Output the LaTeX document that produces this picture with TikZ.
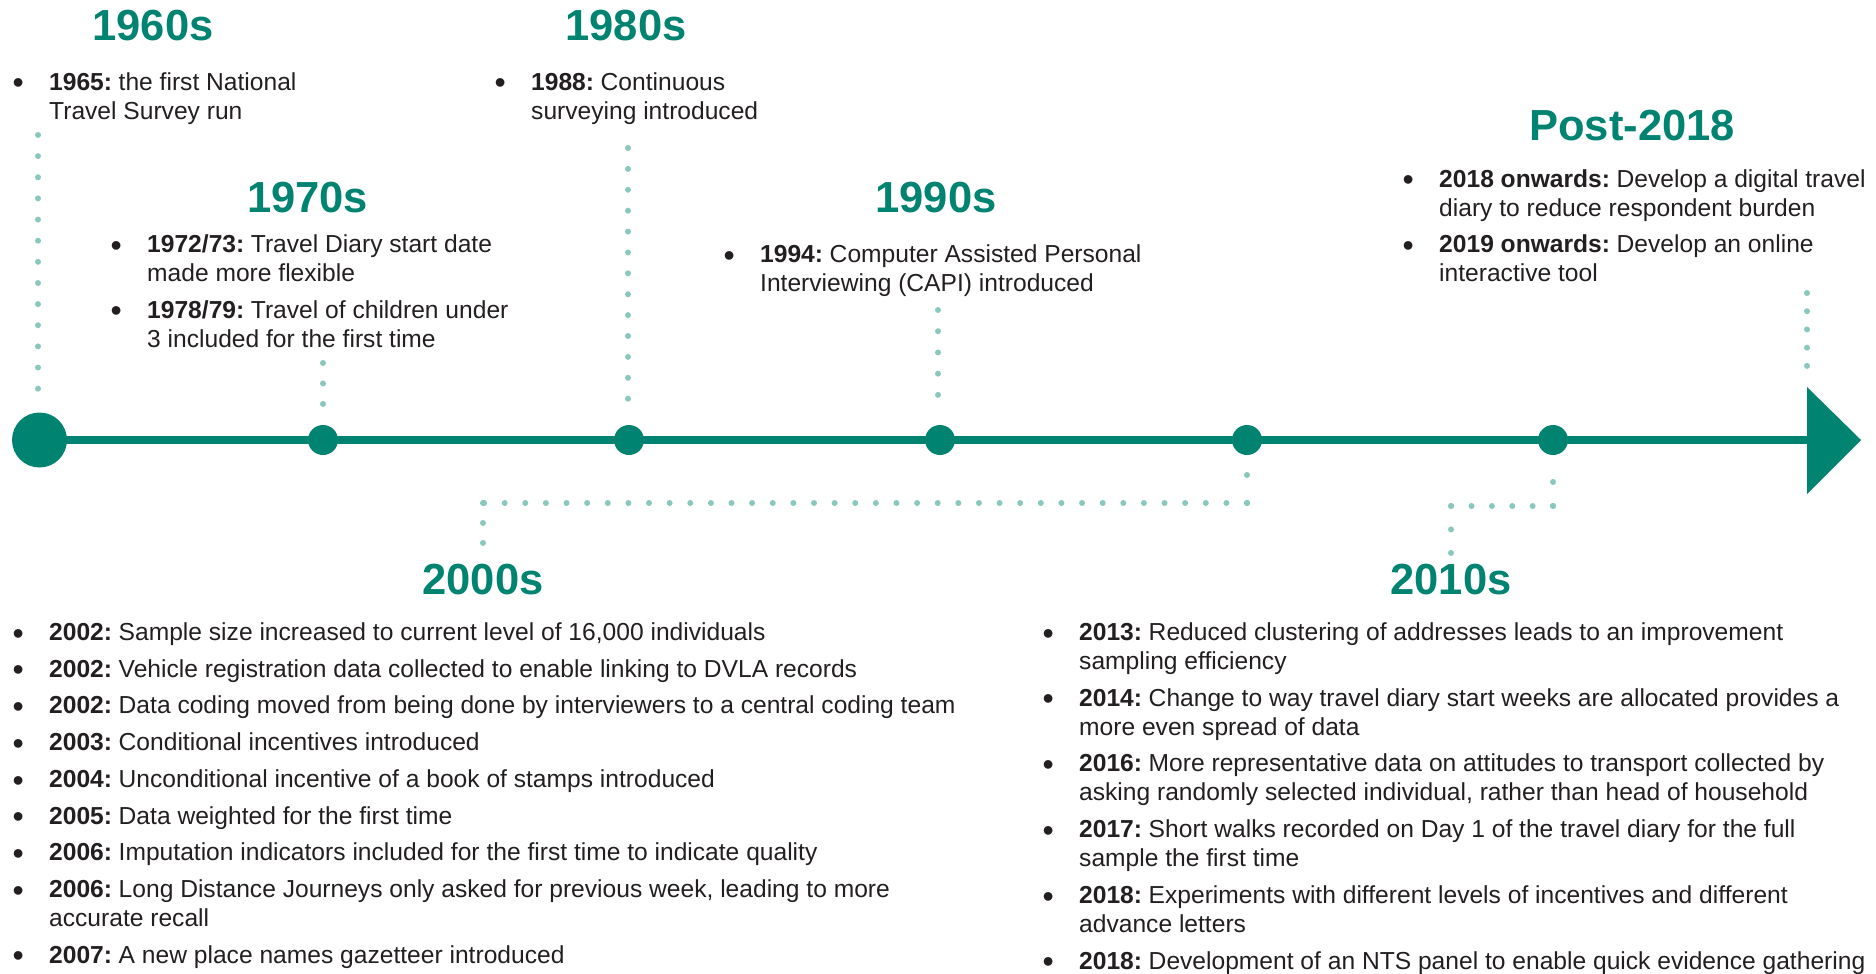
\documentclass[tikz,border=0pt]{standalone}
\usepackage{fontspec}
\setmainfont{Liberation Sans}
\definecolor{nts}{RGB}{0,131,113}
\definecolor{ntsl}{RGB}{136,200,190}
\definecolor{ink}{RGB}{35,31,32}
\newcommand\bul{\makebox[35.2pt][l]{\hspace*{-1.3pt}\raisebox{-3.7pt}{\scalebox{1.3}{\textbullet}}}}
\newcommand\ind{\hspace*{35.2pt}}
\newcommand\yr[1]{\textbf{#1}\hspace{-2.5pt}}
\newcommand\gap{\\[7.7pt]}
\newcommand\lst[1]{\begin{tabular}[t]{@{}l@{}}#1\end{tabular}}
\tikzset{
  head/.style={text=nts, font=\fontsize{43.5}{48}\selectfont\bfseries, inner sep=0pt, anchor=center},
  items/.style={text=ink, font=\fontsize{24.6}{29}\selectfont, inner sep=0pt, anchor=base west},
  tdot/.style={circle, fill=nts, minimum size=30pt, inner sep=0pt},
  bigdot/.style={circle, fill=nts, minimum size=55pt, inner sep=0pt},
  dotln/.style={draw=ntsl, line width=6pt, line cap=round, dash pattern=on 0pt off #1},
  tline/.style={draw=nts, line width=8pt}
}
\begin{document}
\begin{tikzpicture}[x=1pt, y=-1pt]
\useasboundingbox (0,0) rectangle (1876,974);

% timeline
\coordinate (ab) at (1808,440);
\draw[tline] (39.5,440) -- (ab);
\fill[nts] (1807,387) -- (1861,440) -- (1807,494) -- cycle;
\node[bigdot] (d60) at (39.5,440) {};
\node[tdot] (d70) at (323,440) {};
\node[tdot] (d80) at (629,440) {};
\node[tdot] (d90) at (940,440) {};
\node[tdot] (d00) at (1247,440) {};
\node[tdot] (d10) at (1553,440) {};

% headings
\node[head] (h60) at (153,25.5) {1960s};
\node[head] (h80) at (626,25.5) {1980s};
\node[head] (h70) at (307.5,197.5) {1970s};
\node[head] (h90) at (936,197.5) {1990s};
\node[head] (hpost) at (1632,126) {Post-2018};
\node[head] (h00) at (483,580) {2000s};
\node[head] (h10) at (1451,580) {2010s};

% item lists
\node[items] (l60) at (13.8,90) {\lst{%
\bul\yr{1965:} the first National\\
\ind Travel Survey run}};
\node[items] (l80) at (495.8,90) {\lst{%
\bul\yr{1988:} Continuous\\
\ind surveying introduced}};
\node[items] (l70) at (111.8,252.5) {\lst{%
\bul\yr{1972/73:} Travel Diary start date\\
\ind made more flexible\gap
\bul\yr{1978/79:} Travel of children under\\
\ind 3 included for the first time}};
\node[items] (l90) at (724.8,262.5) {\lst{%
\bul\yr{1994:} Computer Assisted Personal\\
\ind Interviewing (CAPI) introduced}};
\node[items] (lpost) at (1403.8,187) {\lst{%
\bul\yr{2018 onwards:} Develop a digital travel\\
\ind diary to reduce respondent burden\gap
\bul\yr{2019 onwards:} Develop an online\\
\ind interactive tool}};
\node[items] (l00) at (13.8,640.5) {\lst{%
\bul\yr{2002:} Sample size increased to current level of 16,000 individuals\gap
\bul\yr{2002:} Vehicle registration data collected to enable linking to DVLA records\gap
\bul\yr{2002:} Data coding moved from being done by interviewers to a central coding team\gap
\bul\yr{2003:} Conditional incentives introduced\gap
\bul\yr{2004:} Unconditional incentive of a book of stamps introduced\gap
\bul\yr{2005:} Data weighted for the first time\gap
\bul\yr{2006:} Imputation indicators included for the first time to indicate quality\gap
\bul\yr{2006:} Long Distance Journeys only asked for previous week, leading to more\\
\ind accurate recall\gap
\bul\yr{2007:} A new place names gazetteer introduced}};
\node[items] (l10) at (1043.8,640.5) {\lst{%
\bul\yr{2013:} Reduced clustering of addresses leads to an improvement\\
\ind sampling efficiency\gap
\bul\yr{2014:} Change to way travel diary start weeks are allocated provides a\\
\ind more even spread of data\gap
\bul\yr{2016:} More representative data on attitudes to transport collected by\\
\ind asking randomly selected individual, rather than head of household\gap
\bul\yr{2017:} Short walks recorded on Day 1 of the travel diary for the full\\
\ind sample the first time\gap
\bul\yr{2018:} Experiments with different levels of incentives and different\\
\ind advance letters\gap
\bul\yr{2018:} Development of an NTS panel to enable quick evidence gathering}};

% dotted connectors
\coordinate (c60a) at (38,135);   \coordinate (c60b) at (38,389);
\coordinate (c70a) at (323,363);  \coordinate (c70b) at (323,404);
\coordinate (c80a) at (628,148);  \coordinate (c80b) at (628,399);
\coordinate (c90a) at (938,310);  \coordinate (c90b) at (938,395);
\coordinate (cpa) at (1807,293);  \coordinate (cpb) at (1807,366);
\coordinate (c00a) at (1247,475); \coordinate (c00b) at (1247,503);
\coordinate (c00c) at (483,503);  \coordinate (c00d) at (483,543);
\coordinate (c10a) at (1553,482); \coordinate (c10b) at (1553,506);
\coordinate (c10c) at (1451,506); \coordinate (c10d) at (1451,553);
\draw[dotln=21.14pt] (c60a) -- (c60b);
\draw[dotln=20.47pt] (c70a) -- (c70b);
\draw[dotln=20.89pt] (c80a) -- (c80b);
\draw[dotln=21.22pt] (c90a) -- (c90b);
\draw[dotln=18.22pt] (cpa) -- (cpb);
\draw[dotln=27.97pt] (c00a) -- (c00b);
\draw[dotln=20.62pt] (c00b) -- (c00c);
\draw[dotln=19.97pt] (c00c) -- (c00d);
\draw[dotln=23.97pt] (c10a) -- (c10b);
\draw[dotln=20.37pt] (c10b) -- (c10c);
\draw[dotln=23.47pt] (c10c) -- (c10d);
\end{tikzpicture}
\end{document}
